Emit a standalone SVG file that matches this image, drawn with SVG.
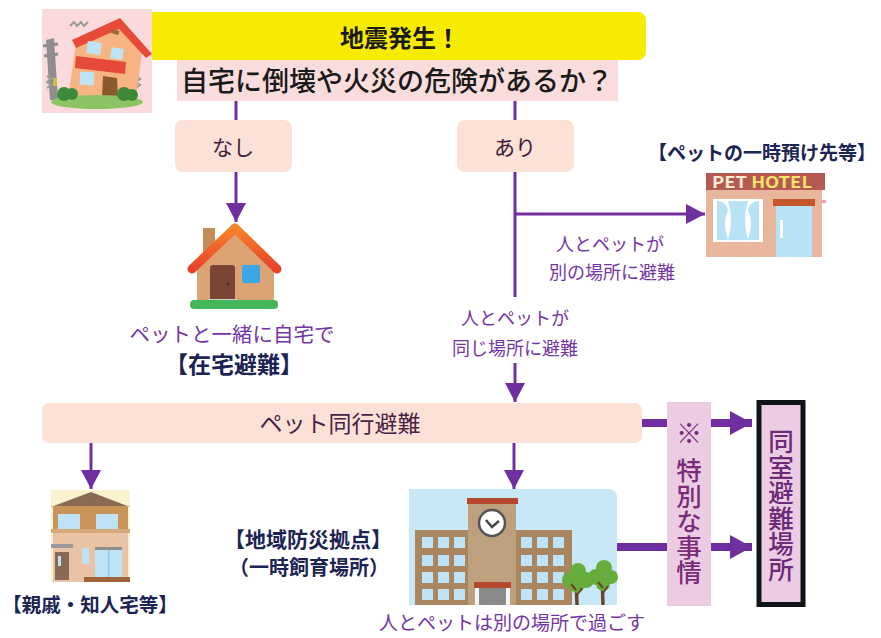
<svg xmlns="http://www.w3.org/2000/svg" width="881" height="638" viewBox="0 0 881 638">
  <style>
    text { font-family: "Noto Sans CJK JP", "Noto Sans", sans-serif; }
    .box { fill: #fbe1d6; }
    .dark { fill: #3f1d3d; }
    .purple { fill: #7434a6; }
    .navy { fill: #1c2454; font-weight: 700; }
    .thin { stroke: #6f2fa0; stroke-width: 3; fill: none; }
    .thick { stroke: #6f2fa0; stroke-width: 8; fill: none; }
    .win { fill: #bfe3f6; }
    .vert { writing-mode: vertical-rl; font-size: 25.5px; font-weight: 500; }
  </style>
  <defs>
    <marker id="head" markerUnits="userSpaceOnUse" markerWidth="19" markerHeight="20" refX="19" refY="10" orient="auto">
      <path d="M0,0 L19,10 L0,20 z" fill="#6f2fa0"/>
    </marker>
    <marker id="bighead" markerUnits="userSpaceOnUse" markerWidth="22" markerHeight="24" refX="22" refY="12" orient="auto">
      <path d="M0,0 L22,12 L0,24 z" fill="#6f2fa0"/>
    </marker>
    <linearGradient id="roofGrad" x1="0" y1="0" x2="0" y2="1">
      <stop offset="0" stop-color="#f7842a"/>
      <stop offset="1" stop-color="#e8402a"/>
    </linearGradient>
  </defs>

  <rect width="881" height="638" fill="#ffffff"/>

  <!-- connectors -->
  <g id="connectors">
    <line class="thin" x1="236" y1="100" x2="236" y2="120"/>
    <line class="thin" x1="515" y1="100" x2="515" y2="120"/>
    <line class="thin" x1="236" y1="172" x2="236" y2="222" marker-end="url(#head)"/>
    <line class="thin" x1="515" y1="172" x2="515" y2="297"/>
    <line class="thin" x1="514" y1="214" x2="705" y2="214" marker-end="url(#head)"/>
    <line class="thin" x1="515" y1="363" x2="515" y2="402" marker-end="url(#head)"/>
    <line class="thin" x1="91" y1="443" x2="91" y2="489" marker-end="url(#head)"/>
    <line class="thin" x1="514" y1="443" x2="514" y2="489" marker-end="url(#head)"/>
    <line class="thick" x1="642" y1="423" x2="667" y2="423"/>
    <line class="thick" x1="711" y1="423" x2="752" y2="423" marker-end="url(#bighead)"/>
    <line class="thick" x1="617" y1="547" x2="667" y2="547"/>
    <line class="thick" x1="711" y1="547" x2="752" y2="547" marker-end="url(#bighead)"/>
    <text class="purple" font-size="18" text-anchor="middle" x="610" y="251">人とペットが</text>
    <text class="purple" font-size="18" text-anchor="middle" x="612" y="279">別の場所に避難</text>
    <text class="purple" font-size="18" text-anchor="middle" x="515" y="325">人とペットが</text>
    <text class="purple" font-size="18" text-anchor="middle" x="515" y="355">同じ場所に避難</text>
  </g>

  <!-- earthquake question -->
  <g id="earthquake">
    <rect x="42" y="9" width="110" height="104" fill="#fadadc"/>
    <!-- utility pole -->
    <path d="M46,40 L54,38 L58,100 L50,100 z" fill="#8e8e8e"/>
    <path d="M43,46 L58,44 M44,56 L58,54" stroke="#8e8e8e" stroke-width="3"/>
    <rect x="53" y="78" width="4" height="8" fill="#c8c040"/>
    <!-- shake marks -->
    <path d="M70,26 l4,-4 l3,4 l4,-4 l3,4 l4,-4" stroke="#999" stroke-width="2" fill="none"/>
    <path d="M47,76 l4,3 l-4,3 l4,3 l-4,3" stroke="#999" stroke-width="2" fill="none"/>
    <path d="M136,76 l4,3 l-4,3 l4,3 l-4,3" stroke="#999" stroke-width="2" fill="none"/>
    <!-- tilted house -->
    <path d="M76,44 L120,24 L142,52 L136,98 L68,98 Z" fill="#f7b483"/>
    <path d="M72,40 L120,18 L152,54 L146,58 L119,29 L76,48 Z" fill="#e84a3a"/>
    <rect x="111" y="30" width="8" height="4" fill="#a0663a" transform="rotate(15 115 32)"/>
    <path d="M76,56 L126,62 L125,74 L75,68 Z" fill="#e6493a"/>
    <rect x="87" y="42" width="14" height="12" class="win" transform="rotate(8 94 48)"/>
    <rect x="111" y="48" width="12" height="11" class="win" transform="rotate(8 117 53)"/>
    <rect x="80" y="72" width="14" height="13" class="win" transform="rotate(4 87 78)"/>
    <path d="M103,76 L117,78 L118,98 L102,98 Z" fill="#8a5a2e"/>
    <ellipse cx="97" cy="102" rx="46" ry="7" fill="#8cc463"/>
    <circle cx="64" cy="94" r="7" fill="#3d8a3a"/>
    <circle cx="72" cy="94" r="6" fill="#3d8a3a"/>
    <circle cx="124" cy="94" r="7" fill="#3d8a3a"/>
    <circle cx="132" cy="95" r="6" fill="#3d8a3a"/>
    <!-- headline -->
    <path d="M152,12 H638 a8,8 0 0 1 8,8 V52 a8,8 0 0 1 -8,8 H152 Z" fill="#f7eb00"/>
    <text x="400" y="47" font-size="24" font-weight="700" text-anchor="middle" fill="#1a1a1a">地震発生！</text>
    <rect x="177" y="60" width="441" height="41" fill="#f9dcdc"/>
    <text x="397" y="91" font-size="27" font-weight="500" text-anchor="middle" fill="#1a1a1a">自宅に倒壊や火災の危険があるか？</text>
  </g>

  <!-- answer: no -->
  <g id="no">
    <rect class="box" x="175" y="120" width="117" height="52" rx="8"/>
    <text class="dark" x="233" y="155" font-size="21" text-anchor="middle">なし</text>
  </g>

  <!-- answer: yes -->
  <g id="yes">
    <rect class="box" x="457" y="120" width="117" height="52" rx="8"/>
    <text class="dark" x="515" y="155" font-size="21" text-anchor="middle">あり</text>
  </g>

  <!-- staying at home -->
  <g id="home">
    <rect x="203" y="228" width="12" height="34" fill="#c58a5a"/>
    <path d="M235,232 L274,268 L274,300 L197,300 L197,268 Z" fill="#dca374"/>
    <path d="M192,269 L235,228 L277,269" stroke="url(#roofGrad)" stroke-width="9" stroke-linecap="round" stroke-linejoin="round" fill="none"/>
    <rect x="210" y="265" width="25" height="36" rx="3" fill="#7a4436"/>
    <circle cx="228" cy="284" r="1.5" fill="#4a2a22"/>
    <rect x="242" y="265" width="18" height="18" rx="2" fill="#3aa6e6"/>
    <rect x="208" y="299" width="29" height="3" fill="#cfcfcf"/>
    <rect x="190" y="300" width="88" height="9" rx="4" fill="#43b65a"/>
    <text class="purple" x="232" y="342" font-size="20.5" text-anchor="middle">ペットと一緒に自宅で</text>
    <text class="navy" x="234" y="373" font-size="23" text-anchor="middle">【在宅避難】</text>
  </g>

  <!-- pet hotel -->
  <g id="pet-hotel">
    <text class="navy" x="762" y="160" font-size="19" font-weight="500" text-anchor="middle">【ペットの一時預け先等】</text>
    <rect x="706" y="190" width="116" height="67" fill="#e8b69c"/>
    <rect x="706" y="173" width="119" height="17" fill="#b45a52"/>
    <text x="712" y="188" font-size="16" font-weight="700" font-family="'DejaVu Sans', sans-serif" fill="#fbeccd" textLength="100" lengthAdjust="spacingAndGlyphs">PET <tspan fill="#f5e36a">HOTEL</tspan></text>
    <rect x="713" y="199" width="50" height="43" fill="#ffffff"/>
    <path d="M717,201 Q726,201 728,210 Q722,222 728,240 L717,240 Z M759,201 Q750,201 748,210 Q754,222 748,240 L759,240 Z M728,201 H748 Q742,220 748,240 H728 Q734,220 728,201 Z" fill="#b8e2f6"/>
    <rect x="773" y="199" width="42" height="7" fill="#c3562b"/>
    <rect x="776" y="206" width="36" height="51" fill="#b8e2f6"/>
    <rect x="780" y="220" width="3" height="18" fill="#ffffff"/>
    <rect x="822" y="200" width="4" height="3" fill="#f0a0a8"/>
  </g>

  <!-- evacuation with pets -->
  <g id="evacuation">
    <rect class="box" x="42" y="403" width="600" height="40" rx="7"/>
    <text x="340" y="432" font-size="23" text-anchor="middle" fill="#4a2346">ペット同行避難</text>
  </g>

  <!-- relatives' house -->
  <g id="relatives">
    <rect x="51" y="490" width="79" height="92" fill="#fbf2cf"/>
    <path d="M51,507 L91,492 L130,507 Z" fill="#8a6a55"/>
    <rect x="53" y="506" width="75" height="24" fill="#c99458"/>
    <rect x="58" y="514" width="22" height="15" class="win"/>
    <rect x="96" y="514" width="22" height="15" class="win"/>
    <rect x="51" y="529" width="79" height="4" fill="#d8a878"/>
    <rect x="53" y="533" width="75" height="49" fill="#eac2a4"/>
    <rect x="51" y="544" width="22" height="4" fill="#9a9a9a"/>
    <rect x="55" y="552" width="14" height="28" fill="#8b6a55"/>
    <rect x="58" y="556" width="3" height="10" class="win"/>
    <rect x="82" y="548" width="7" height="16" class="win"/>
    <rect x="95" y="547" width="27" height="30" class="win"/>
    <rect x="95" y="547" width="27" height="3" fill="#8e8e8e"/>
    <rect x="108" y="550" width="1.5" height="27" fill="#9cc6d8"/>
    <rect x="84" y="577" width="46" height="5" fill="#a0643a"/>
    <text class="navy" x="90" y="612" font-size="19.5" text-anchor="middle">【親戚・知人宅等】</text>
  </g>

  <!-- shelter -->
  <g id="shelter">
    <text class="navy" x="308" y="547" font-size="21" text-anchor="middle">【地域防災拠点】</text>
    <text class="navy" x="309" y="575" font-size="20" text-anchor="middle">（一時飼育場所）</text>
    <path d="M409,489 H609 a8,8 0 0 1 8,8 V605 H409 Z" fill="#c8e8f8"/>
    <rect x="415" y="530" width="157" height="75" fill="#a98660"/>
    <rect x="468" y="503" width="48" height="102" fill="#bda07e"/>
    <rect x="467" y="498" width="51" height="6" fill="#b4472c"/>
    <circle cx="492" cy="523" r="13" fill="#ffffff" stroke="#555555" stroke-width="2.5"/>
    <path d="M486,520 L492,527 L499,521" stroke="#444" stroke-width="2.5" fill="none"/>
    <g class="win">
      <rect x="422" y="537" width="11" height="11"/><rect x="438" y="537" width="11" height="11"/><rect x="454" y="537" width="11" height="11"/>
      <rect x="422" y="555" width="11" height="11"/><rect x="438" y="555" width="11" height="11"/><rect x="454" y="555" width="11" height="11"/>
      <rect x="422" y="572" width="11" height="11"/><rect x="438" y="572" width="11" height="11"/><rect x="454" y="572" width="11" height="11"/>
      <rect x="422" y="589" width="11" height="11"/><rect x="438" y="589" width="11" height="11"/><rect x="454" y="589" width="11" height="11"/>
      <rect x="521" y="537" width="11" height="11"/><rect x="537" y="537" width="11" height="11"/><rect x="553" y="537" width="11" height="11"/>
      <rect x="521" y="555" width="11" height="11"/><rect x="537" y="555" width="11" height="11"/><rect x="553" y="555" width="11" height="11"/>
      <rect x="521" y="572" width="11" height="11"/><rect x="537" y="572" width="11" height="11"/><rect x="553" y="572" width="11" height="11"/>
      <rect x="521" y="589" width="11" height="11"/><rect x="537" y="589" width="11" height="11"/><rect x="553" y="589" width="11" height="11"/>
    </g>
    <rect x="474" y="582" width="37" height="6" fill="#b4472c"/>
    <rect x="475" y="588" width="35" height="17" fill="#f4f4f4"/>
    <rect x="479" y="588" width="27" height="17" fill="#8a8a8a"/>
    <!-- trees -->
    <path d="M576,578 L577,605 M602,576 L603,605" stroke="#6b4428" stroke-width="3.5"/>
    <g fill="#66ad3e">
      <circle cx="570" cy="580" r="8"/><circle cx="578" cy="571" r="8"/><circle cx="586" cy="580" r="8"/><circle cx="577" cy="586" r="7"/>
      <circle cx="596" cy="577" r="8"/><circle cx="604" cy="568" r="8"/><circle cx="611" cy="577" r="7"/><circle cx="603" cy="584" r="7"/>
    </g>
    <path d="M576,590 L571,584 M577,595 L582,588 M603,588 L598,582 M603,593 L608,586" stroke="#6b4428" stroke-width="2"/>
    <text class="purple" x="512" y="630" font-size="19" text-anchor="middle">人とペットは別の場所で過ごす</text>
  </g>

  <!-- special circumstances -->
  <g id="special">
    <rect x="667" y="402" width="44" height="204" fill="#eccce2"/>
    <text x="689" y="443" font-size="26" text-anchor="middle" fill="#7a2c78">※</text>
    <text class="vert" x="689" y="458" fill="#7a2c78">特別な事情</text>
  </g>

  <!-- same-room shelter -->
  <g id="same-room">
    <rect x="759" y="402.5" width="44" height="202" fill="#eccce2" stroke="#0e1418" stroke-width="5"/>
    <text class="vert" x="781" y="429" fill="#6d2a78">同室避難場所</text>
  </g>
</svg>
